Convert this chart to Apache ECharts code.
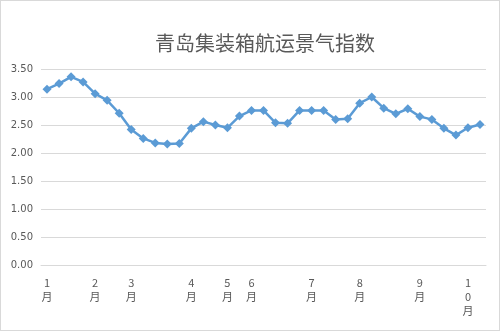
<!DOCTYPE html>
<html><head><meta charset="utf-8">
<script src="https://cdn.jsdelivr.net/npm/echarts@6/dist/echarts.min.js"></script>
<style>html,body{margin:0;padding:0;background:#fff}#c{width:500px;height:331px;box-sizing:border-box;border:1px solid #d9d9d9}</style>
</head><body><div id="c"></div>
<script>
const monthLabels = ['1\n月','','','','2\n月','','','3\n月','','','','','4\n月','','','5\n月','','6\n月','','','','','7\n月','','','','8\n月','','','','','9\n月','','','','1\n0\n月',''];
const values = [3.14,3.24,3.36,3.27,3.06,2.94,2.71,2.42,2.26,2.18,2.16,2.17,2.44,2.56,2.50,2.45,2.66,2.76,2.76,2.54,2.53,2.76,2.76,2.76,2.60,2.61,2.89,3.00,2.80,2.70,2.79,2.65,2.60,2.44,2.32,2.45,2.51];
const yTicks = {min:0, max:3.5, interval:0.5};
const chart = echarts.init(document.getElementById('c'), null, {renderer:'canvas'});
chart.setOption({
  animation:false,
  title:{text:'青岛集装箱航运景气指数', left:259, top:27, textAlign:'center',
    textStyle:{fontSize:20, fontWeight:'normal', color:'#595959', fontFamily:'Noto Sans CJK SC'}},
  grid:{left:40, right:13, top:68, bottom:65},
  xAxis:{type:'category', data:monthLabels, boundaryGap:true,
    axisLine:{lineStyle:{color:'#d9d9d9'}}, axisTick:{show:false},
    axisLabel:{interval:0, color:'#595959', fontSize:11, lineHeight:14, margin:11, fontFamily:'Noto Sans CJK SC'}},
  yAxis:{type:'value', min:yTicks.min, max:yTicks.max, interval:yTicks.interval,
    axisLine:{show:false}, axisTick:{show:false},
    splitLine:{lineStyle:{color:'#d9d9d9'}},
    axisLabel:{color:'#595959', fontSize:10, margin:8, formatter:v=>v.toFixed(2), fontFamily:'DejaVu Sans'}},
  series:[{type:'line', data:values, symbol:'diamond', symbolSize:9,
    lineStyle:{color:'#5b9bd5', width:2.5}, itemStyle:{color:'#5b9bd5'}}]
});
</script></body></html>
